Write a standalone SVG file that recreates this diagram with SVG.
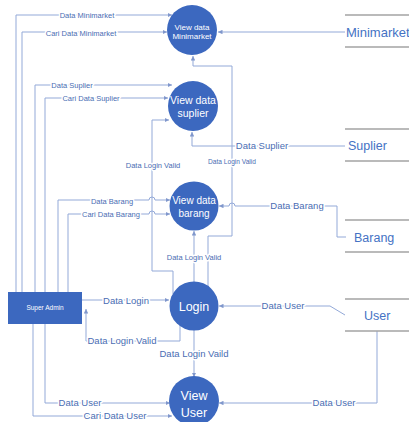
<svg xmlns="http://www.w3.org/2000/svg" width="409" height="422" viewBox="0 0 409 422">
<style>
.bg{fill:#ffffff}
.proc{fill:#3C68BF}
.ent{fill:#3C68BF}
.ptxt{fill:#ffffff;font-family:"Liberation Sans",Arial,sans-serif;text-anchor:middle}
.c{fill:none;stroke:#93A9D8;stroke-width:1}
.lbl{fill:#4A6DB3;font-family:"Liberation Sans",Arial,sans-serif;text-anchor:middle;paint-order:stroke;stroke:#ffffff;stroke-width:3px;stroke-linejoin:round}
.s{font-size:7.5px}
.m{font-size:9.5px}
.ds{stroke:#A3A3A3;stroke-width:1.5}
.dtxt{fill:#4472C4;font-family:"Liberation Sans",Arial,sans-serif;font-size:12.5px}
</style>
<defs>
<marker id="ar" viewBox="0 0 6 6" refX="6" refY="3" markerWidth="4.5" markerHeight="4.5" orient="auto" markerUnits="userSpaceOnUse">
<path d="M0,0 L6,3 L0,6 z" fill="#8097CC"/>
</marker>
</defs>
<rect class="bg" x="0" y="0" width="409" height="422"/>

<g id="connectors">
<path class="c" marker-end="url(#ar)" d="M16,292 V15 H172"/>
<path class="c" marker-end="url(#ar)" d="M22,292 V32 H167"/>
<path class="c" marker-end="url(#ar)" d="M35,292 V85 H172"/>
<path class="c" marker-end="url(#ar)" d="M45,292 V98 H168"/>
<path class="c" marker-end="url(#ar)" d="M58,292 V200 H149 a3,3 0 0 1 6,0 H170"/>
<path class="c" marker-end="url(#ar)" d="M68,292 V214 H149 a3,3 0 0 1 6,0 H170"/>
<path class="c" marker-end="url(#ar)" d="M45,324 V403 H170"/>
<path class="c" marker-end="url(#ar)" d="M33,324 V416 H172"/>
<path class="c" marker-end="url(#ar)" d="M82,300 H169"/>
<path class="c" marker-end="url(#ar)" d="M180,325 V341 H86 V309"/>
<path class="c" marker-end="url(#ar)" d="M194,330 V377"/>
<path class="c" marker-end="url(#ar)" d="M345,315 L330,306 H219"/>
<path class="c" marker-end="url(#ar)" d="M377,331 V403 H219"/>
<path class="c" marker-end="url(#ar)" d="M346,237 H337 V206 H235 a3,3 0 0 0 -6,0 H219"/>
<path class="c" marker-end="url(#ar)" d="M345,146 H192 V132"/>
<path class="c" marker-end="url(#ar)" d="M345,32 H218"/>
<path class="c" marker-end="url(#ar)" d="M208,287 V236 H232 V66 H193 V56"/>
<path class="c" marker-end="url(#ar)" d="M173,294 V271 H152 V120 H169"/>
<path class="c" marker-end="url(#ar)" d="M194,282 V231"/>

<text class="lbl s" x="87" y="17.6">Data Minimarket</text>
<text class="lbl s" x="81" y="35.6">Cari Data Minimarket</text>
<text class="lbl s" x="72" y="87.6">Data Suplier</text>
<text class="lbl s" x="91" y="100.6">Cari Data Suplier</text>
<text class="lbl s" x="112" y="203.6">Data Barang</text>
<text class="lbl s" x="111" y="216.6">Cari Data Barang</text>
<text class="lbl s" x="153" y="167.6">Data Login Valid</text>
<text class="lbl" style="font-size:6.6px" x="232" y="164.3">Data Login Valid</text>
<text class="lbl s" x="194" y="259.6">Data Login Valid</text>
<text class="lbl m" x="126" y="304.3">Data Login</text>
<text class="lbl m" x="122" y="344.3">Data Login Valid</text>
<text class="lbl m" x="194" y="357.3">Data Login Vaild</text>
<text class="lbl m" x="80" y="406.3">Data User</text>
<text class="lbl m" x="115" y="419.3">Cari Data User</text>
<text class="lbl m" x="283" y="309.3">Data User</text>
<text class="lbl m" x="334" y="406.3">Data User</text>
<text class="lbl m" x="297" y="209.3">Data Barang</text>
<text class="lbl m" x="262" y="149.3">Data Suplier</text>
</g>

<g id="super-admin">
<rect class="ent" x="8" y="292" width="74" height="32"/>
<text class="ptxt" x="45" y="310.3" style="font-size:6.5px">Super Admin</text>
</g>

<g id="view-data-minimarket">
<circle class="proc" cx="192" cy="30" r="25"/>
<text class="ptxt" x="192" y="29.8" style="font-size:8px">View data</text>
<text class="ptxt" x="192" y="39" style="font-size:8px">Minimarket</text>
</g>

<g id="view-data-suplier">
<circle class="proc" cx="193" cy="106" r="25"/>
<text class="ptxt" x="193" y="103.8" style="font-size:10.5px">View data</text>
<text class="ptxt" x="193" y="116.5" style="font-size:10.5px">suplier</text>
</g>

<g id="view-data-barang">
<circle class="proc" cx="194" cy="206" r="24.5"/>
<text class="ptxt" x="194" y="203.5" style="font-size:10px">View data</text>
<text class="ptxt" x="194" y="216.5" style="font-size:10px">barang</text>
</g>

<g id="login">
<circle class="proc" cx="194" cy="306" r="24.5"/>
<text class="ptxt" x="194" y="310.5" style="font-size:12.5px">Login</text>
</g>

<g id="view-user">
<circle class="proc" cx="194" cy="401" r="25"/>
<text class="ptxt" x="194" y="399.5" style="font-size:12.5px">View</text>
<text class="ptxt" x="194" y="416.5" style="font-size:12.5px">User</text>
</g>

<g id="store-minimarket">
<line class="ds" x1="345" y1="15" x2="409" y2="15"/>
<line class="ds" x1="345" y1="47" x2="409" y2="47"/>
<text class="dtxt" x="346" y="36.5" style="font-size:13px">Minimarket</text>
</g>

<g id="store-suplier">
<line class="ds" x1="345" y1="129" x2="409" y2="129"/>
<line class="ds" x1="345" y1="161" x2="409" y2="161"/>
<text class="dtxt" x="348" y="149.5">Suplier</text>
</g>

<g id="store-barang">
<line class="ds" x1="345" y1="220" x2="409" y2="220"/>
<line class="ds" x1="345" y1="252" x2="409" y2="252"/>
<text class="dtxt" x="354" y="241.5">Barang</text>
</g>

<g id="store-user">
<line class="ds" x1="345" y1="299" x2="409" y2="299"/>
<line class="ds" x1="345" y1="331" x2="409" y2="331"/>
<text class="dtxt" x="364" y="319.5">User</text>
</g>
</svg>
